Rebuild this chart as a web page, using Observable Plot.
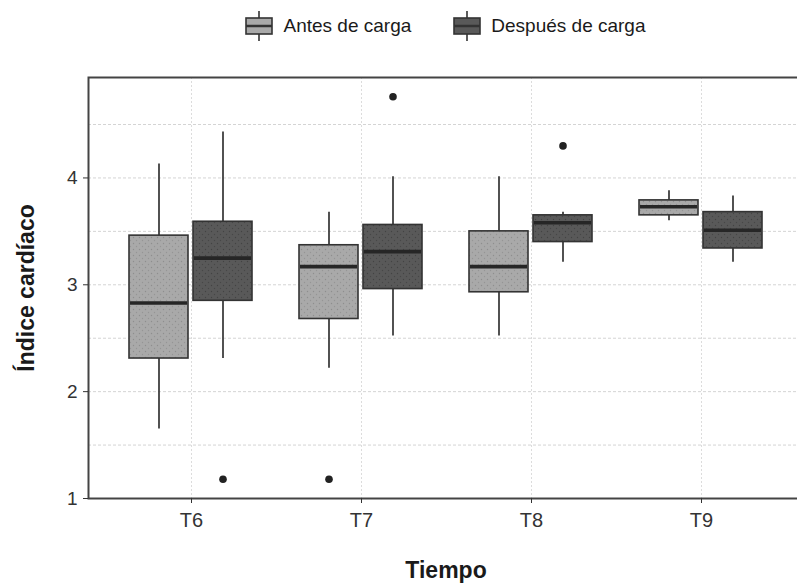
<!DOCTYPE html>
<html>
<head>
<meta charset="utf-8">
<script src="https://cdn.jsdelivr.net/npm/d3@7"></script>
<script src="https://cdn.jsdelivr.net/npm/@observablehq/plot@0.6"></script>
<style>
  body { margin: 0; background: #fff; font-family: "Liberation Sans", Arial, sans-serif; }
  #wrap { position: relative; width: 797px; height: 586px; overflow: hidden; background: #fff; }
  #legend { position: absolute; left: 88px; top: 0; width: 715px; height: 52px; display: flex; justify-content: center; align-items: center; font-size: 19px; color: #1a1a1a; }
  .item { display: flex; align-items: center; }
  .item + .item { margin-left: 42px; }
  .item svg { margin-right: 10px; }
  #chart { position: absolute; left: 0; top: 50px; }
  #chart svg { max-width: none !important; }
</style>
</head>
<body>
<div id="wrap">
  <div id="legend"></div>
  <div id="chart"></div>
</div>
<script>
// ---- data ----
const tiempos = ["T6", "T7", "T8", "T9"];
const grupos = ["Antes de carga", "Después de carga"];

// Antes de carga: whisker low, Q1, median, Q3, whisker high
const antesLo  = [1.65, 2.22, 2.52, 3.60];
const antesQ1  = [2.31, 2.68, 2.93, 3.65];
const antesMed = [2.83, 3.17, 3.17, 3.73];
const antesQ3  = [3.46, 3.37, 3.50, 3.79];
const antesHi  = [4.13, 3.68, 4.01, 3.88];

// Después de carga
const despLo  = [2.31, 2.52, 3.21, 3.21];
const despQ1  = [2.85, 2.96, 3.40, 3.34];
const despMed = [3.25, 3.31, 3.58, 3.51];
const despQ3  = [3.59, 3.56, 3.65, 3.68];
const despHi  = [4.43, 4.01, 3.68, 3.83];

// outliers
const outTiempo = ["T7", "T6", "T7", "T8"];
const outGrupo  = ["Antes de carga", "Después de carga", "Después de carga", "Después de carga"];
const outValor  = [1.18, 1.18, 4.76, 4.30];

const yTicks = [1, 2, 3, 4];
const yMinor = [1.5, 2.5, 3.5, 4.5];

// ---- build tables ----
function rowsFor(g, lo, q1, med, q3, hi) {
  return tiempos.map((t, i) => ({tiempo: t, grupo: g, lo: lo[i], q1: q1[i], med: med[i], q3: q3[i], hi: hi[i]}));
}
const antes = rowsFor(grupos[0], antesLo, antesQ1, antesMed, antesQ3, antesHi);
const desp = rowsFor(grupos[1], despLo, despQ1, despMed, despQ3, despHi);
const outliers = outTiempo.map((t, i) => ({tiempo: t, grupo: outGrupo[i], v: outValor[i]}));

const style = {
  [grupos[0]]: {fill: "url(#dotsLight)", dx: -32.5, insetLeft: 23, insetRight: 88},
  [grupos[1]]: {fill: "url(#dotsDark)", dx: 31.5, insetLeft: 87, insetRight: 24}
};

function boxMarks(rows, g) {
  const s = style[g];
  return [
    Plot.ruleX(rows, {x: "tiempo", y1: "lo", y2: "hi", dx: s.dx, stroke: "#333", strokeWidth: 1.7}),
    Plot.barY(rows, {x: "tiempo", y1: "q1", y2: "q3", fill: s.fill, stroke: "#333", strokeWidth: 1.6, insetLeft: s.insetLeft, insetRight: s.insetRight}),
    Plot.tickY(rows, {x: "tiempo", y: "med", stroke: "#262626", strokeWidth: 3.6, insetLeft: s.insetLeft + 1, insetRight: s.insetRight + 1}),
    Plot.dot(outliers.filter(d => d.grupo === g), {x: "tiempo", y: "v", dx: s.dx, r: 3.8, fill: "#222", stroke: "none"})
  ];
}

const chart = Plot.plot({
  width: 803,
  height: 536,
  marginLeft: 88,
  marginRight: 0,
  marginTop: 27,
  marginBottom: 88,
  style: {fontFamily: "'Liberation Sans', Arial, sans-serif", color: "#333", background: "#fff", maxWidth: "none"},
  x: {domain: tiempos, paddingInner: 0, paddingOuter: 0.1, axis: null},
  y: {domain: [1, 4.94], axis: null},
  marks: [
    Plot.ruleY(yMinor, {stroke: "#d4d4d4", strokeWidth: 1, strokeDasharray: "3,2"}),
    Plot.ruleY(yTicks, {stroke: "#d4d4d4", strokeWidth: 1, strokeDasharray: "3,2"}),
    Plot.ruleX(tiempos, {stroke: "#dcdcdc", strokeWidth: 1, strokeDasharray: "2,2"}),
    ...boxMarks(antes, grupos[0]),
    ...boxMarks(desp, grupos[1]),
    Plot.frame({stroke: "#444", strokeWidth: 2}),
    Plot.axisY(yTicks, {tickSize: 5, tickPadding: 6, fontSize: 19, label: null, tickFormat: d3.format("d"), stroke: "#333", fill: "#333"}),
    Plot.axisX(tiempos, {tickSize: 5, tickPadding: 9, fontSize: 20, label: null, stroke: "#333", fill: "#333"}),
    Plot.text(["Índice cardíaco"], {frameAnchor: "left", textAnchor: "middle", lineAnchor: "middle", rotate: -90, dx: -62, fontSize: 23, fontWeight: "bold", fill: "#1a1a1a"}),
    Plot.text(["Tiempo"], {frameAnchor: "bottom", textAnchor: "middle", lineAnchor: "middle", dy: 72, fontSize: 23, fontWeight: "bold", fill: "#1a1a1a"})
  ]
});

const defs = `<defs>
  <pattern id="dotsLight" width="6" height="6" patternUnits="userSpaceOnUse">
    <rect width="6" height="6" fill="#a9a9a9"/>
    <circle cx="1.5" cy="1.5" r="0.7" fill="#8e8e8e"/>
    <circle cx="4.5" cy="4.5" r="0.7" fill="#959595"/>
  </pattern>
  <pattern id="dotsDark" width="6" height="6" patternUnits="userSpaceOnUse">
    <rect width="6" height="6" fill="#595959"/>
    <circle cx="1.5" cy="1.5" r="0.7" fill="#434343"/>
    <circle cx="4.5" cy="4.5" r="0.7" fill="#474747"/>
  </pattern>
</defs>`;
chart.insertAdjacentHTML("afterbegin", defs);
document.getElementById("chart").appendChild(chart);

// ---- legend ----
const legendFill = {[grupos[0]]: "#a9a9a9", [grupos[1]]: "#595959"};
const legend = document.getElementById("legend");
grupos.forEach(g => {
  const item = document.createElement("div");
  item.className = "item";
  item.innerHTML = `<svg width="28" height="30" viewBox="0 0 28 30">
      <line x1="14" x2="14" y1="0" y2="30" stroke="#333" stroke-width="1.6"/>
      <rect x="1" y="7" width="26" height="16" fill="${legendFill[g]}" stroke="#333" stroke-width="1.6"/>
      <line x1="1" x2="27" y1="15" y2="15" stroke="#333" stroke-width="2.5"/>
    </svg><span>${g}</span>`;
  legend.appendChild(item);
});
</script>
</body>
</html>
